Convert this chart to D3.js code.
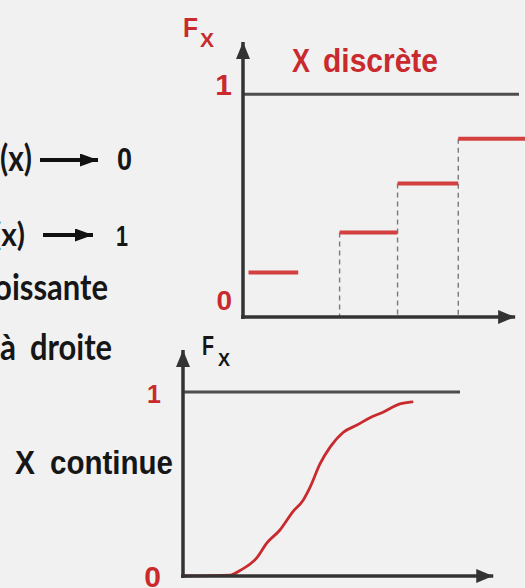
<!DOCTYPE html>
<html>
<head>
<meta charset="utf-8">
<script src="https://cdn.jsdelivr.net/npm/d3@7"></script>
<style>
  html, body { margin: 0; padding: 0; background: #f1f1f1; }
  svg { display: block; }
</style>
</head>
<body>
<script>
// Fonction de répartition : cas discret (en escalier) et cas continu
const stepStart = [0.2, 3.5, 5.6, 7.8];
const stepEnd   = [2.0, 5.6, 7.8, 10.3];
const stepValue = [0.2, 0.38, 0.6, 0.8];

const contX = [0.07, 1.7, 2.06, 2.67, 3.03, 3.5, 3.97, 4.33, 4.58, 4.95, 5.31, 5.78, 6.28, 6.75, 7.22, 7.83, 8.27];
const contF = [0, 0.005, 0.03, 0.10, 0.18, 0.25, 0.35, 0.41, 0.48, 0.61, 0.70, 0.78, 0.82, 0.86, 0.89, 0.935, 0.946];

const yTickValues = [0, 1];
const yTickLabels = ["0", "1"];

const W = 525, H = 588;
const RED = "#c92a2e", STEP_RED = "#d43f3f", AXIS = "#333", ONE_LINE = "#4d4d4d";

const svg = d3.select("body").append("svg").attr("width", W).attr("height", H);

const defs = svg.append("defs");
function arrowMarker(id, len, half, color) {
  defs.append("marker")
    .attr("id", id).attr("markerUnits", "userSpaceOnUse")
    .attr("viewBox", `0 ${-half} ${len} ${2 * half}`)
    .attr("refX", len).attr("refY", 0)
    .attr("markerWidth", len).attr("markerHeight", 2 * half)
    .attr("orient", "auto")
    .append("path").attr("d", `M0,${-half}L${len},0L0,${half}Z`).attr("fill", color);
}
arrowMarker("arrAxis", 17, 7, AXIS);
arrowMarker("arrText", 18, 6.5, "#111");

// ---------- texte à gauche ----------
const gLeft = svg.append("g").attr("fill", "#161616").attr("font-weight", 700);
function txt(g, s, x, y, size, len, family, anchor) {
  return g.append("text").text(s)
    .attr("x", x).attr("y", y)
    .attr("font-size", size).attr("font-family", family)
    .attr("text-anchor", anchor || "start")
    .attr("textLength", len).attr("lengthAdjust", "spacingAndGlyphs");
}
const LATO = "Lato, 'Open Sans', sans-serif";
const ARIAL = "'Liberation Sans', Arial, sans-serif";

txt(gLeft, "(x)", 32, 171, 36, 32, LATO, "end");
txt(gLeft, "0", 117, 170, 32, 15, ARIAL);
gLeft.append("line").attr("x1", 40).attr("x2", 98).attr("y1", 160).attr("y2", 160)
  .attr("stroke", "#111").attr("stroke-width", 4).attr("marker-end", "url(#arrText)");

txt(gLeft, "(x)", 25, 246, 33, 32, LATO, "end");
txt(gLeft, "1", 116, 246, 30, 12, ARIAL);
gLeft.append("line").attr("x1", 43).attr("x2", 93).attr("y1", 235).attr("y2", 235)
  .attr("stroke", "#111").attr("stroke-width", 4).attr("marker-end", "url(#arrText)");

txt(gLeft, "croissante", 108, 300, 36, 140, LATO, "end");
txt(gLeft, "à", 0, 360, 36, 16, LATO);
txt(gLeft, "droite", 30, 360, 36, 82, LATO);

// ---------- X discrète ----------
const xTop = d3.scaleLinear().domain([0, 10]).range([243, 519]);
const yTop = d3.scaleLinear().domain([0, 1.235]).range([317, 42]);
const gTop = svg.append("g");

// droite F = 1
gTop.append("line")
  .attr("x1", xTop(0)).attr("x2", xTop(10))
  .attr("y1", yTop(1)).attr("y2", yTop(1))
  .attr("stroke", ONE_LINE).attr("stroke-width", 3);

// pointillés sous les sauts
gTop.selectAll("line.jump").data(stepStart.slice(1).map((s, i) => ({ x: s, v: stepValue[i + 1] })))
  .join("line").attr("class", "jump")
  .attr("x1", d => xTop(d.x)).attr("x2", d => xTop(d.x))
  .attr("y1", d => yTop(d.v)).attr("y2", yTop(0))
  .attr("stroke", "#7a7a7a").attr("stroke-width", 1.4).attr("stroke-dasharray", "5,4");

// paliers
gTop.selectAll("line.step").data(stepValue.map((v, i) => ({ a: stepStart[i], b: stepEnd[i], v })))
  .join("line").attr("class", "step")
  .attr("x1", d => xTop(d.a)).attr("x2", d => xTop(d.b))
  .attr("y1", d => yTop(d.v)).attr("y2", d => yTop(d.v))
  .attr("stroke", STEP_RED).attr("stroke-width", 4);

// axes
gTop.append("line").attr("x1", xTop(0)).attr("x2", xTop(0))
  .attr("y1", yTop(0) + 2).attr("y2", yTop(1.235))
  .attr("stroke", AXIS).attr("stroke-width", 3.5).attr("marker-end", "url(#arrAxis)");
gTop.append("line").attr("x1", xTop(0) - 2).attr("x2", xTop(9.86))
  .attr("y1", yTop(0)).attr("y2", yTop(0))
  .attr("stroke", AXIS).attr("stroke-width", 3.5).attr("marker-end", "url(#arrAxis)");

// graduations 0 et 1
const topTickDy = [-7, 1];
gTop.selectAll("text.tick").data(yTickValues).join("text").attr("class", "tick")
  .text((d, i) => yTickLabels[i])
  .attr("x", xTop(0) - 11).attr("y", (d, i) => yTop(d) + topTickDy[i])
  .attr("text-anchor", "end").attr("font-family", ARIAL).attr("font-weight", 700)
  .attr("font-size", (d, i) => i ? 30 : 28).attr("fill", RED);

// F_X
txt(gTop, "F", 183, 37, 28, 15, ARIAL).attr("fill", RED).attr("font-weight", 700);
txt(gTop, "X", 200, 47, 21, 14, ARIAL).attr("fill", RED).attr("font-weight", 700);

// titre
txt(gTop, "X", 292, 72, 33, 18, ARIAL).attr("fill", RED).attr("font-weight", 700);
txt(gTop, "discrète", 323, 72, 33, 115, ARIAL).attr("fill", RED).attr("font-weight", 700);

// ---------- X continue ----------
const xBot = d3.scaleLinear().domain([0, 10]).range([183, 460]);
const yBot = d3.scaleLinear().domain([0, 1.228]).range([576, 350]);
const gBot = svg.append("g");

gBot.append("line")
  .attr("x1", xBot(0)).attr("x2", xBot(10))
  .attr("y1", yBot(1)).attr("y2", yBot(1))
  .attr("stroke", ONE_LINE).attr("stroke-width", 3);

gBot.append("path")
  .datum(contX.map((x, i) => [x, contF[i]]))
  .attr("d", d3.line().x(d => xBot(d[0])).y(d => yBot(d[1])).curve(d3.curveMonotoneX))
  .attr("fill", "none").attr("stroke", RED).attr("stroke-width", 2.8)
  .attr("stroke-linejoin", "round").attr("stroke-linecap", "round");

gBot.append("line").attr("x1", xBot(0)).attr("x2", xBot(0))
  .attr("y1", yBot(0) + 2).attr("y2", yBot(1.228))
  .attr("stroke", AXIS).attr("stroke-width", 3.5).attr("marker-end", "url(#arrAxis)");
gBot.append("line").attr("x1", xBot(0) - 2).attr("x2", xBot(11.2))
  .attr("y1", yBot(0)).attr("y2", yBot(0))
  .attr("stroke", AXIS).attr("stroke-width", 3.5).attr("marker-end", "url(#arrAxis)");

gBot.selectAll("text.tick").data(yTickValues).join("text").attr("class", "tick")
  .text((d, i) => yTickLabels[i])
  .attr("x", xBot(0) - 22).attr("y", d => yBot(d) + 11)
  .attr("text-anchor", "end").attr("font-family", ARIAL).attr("font-weight", 700)
  .attr("font-size", (d, i) => i ? 25 : 30).attr("fill", RED);

txt(gBot, "F", 202, 355, 28, 12, ARIAL).attr("fill", "#161616").attr("font-weight", 700);
txt(gBot, "X", 218, 366, 18, 12, ARIAL).attr("fill", "#161616").attr("font-weight", 700);

txt(gBot, "X", 15, 474, 34, 20, ARIAL).attr("fill", "#161616").attr("font-weight", 700);
txt(gBot, "continue", 50, 474, 34, 123, ARIAL).attr("fill", "#161616").attr("font-weight", 700);
</script>
</body>
</html>
